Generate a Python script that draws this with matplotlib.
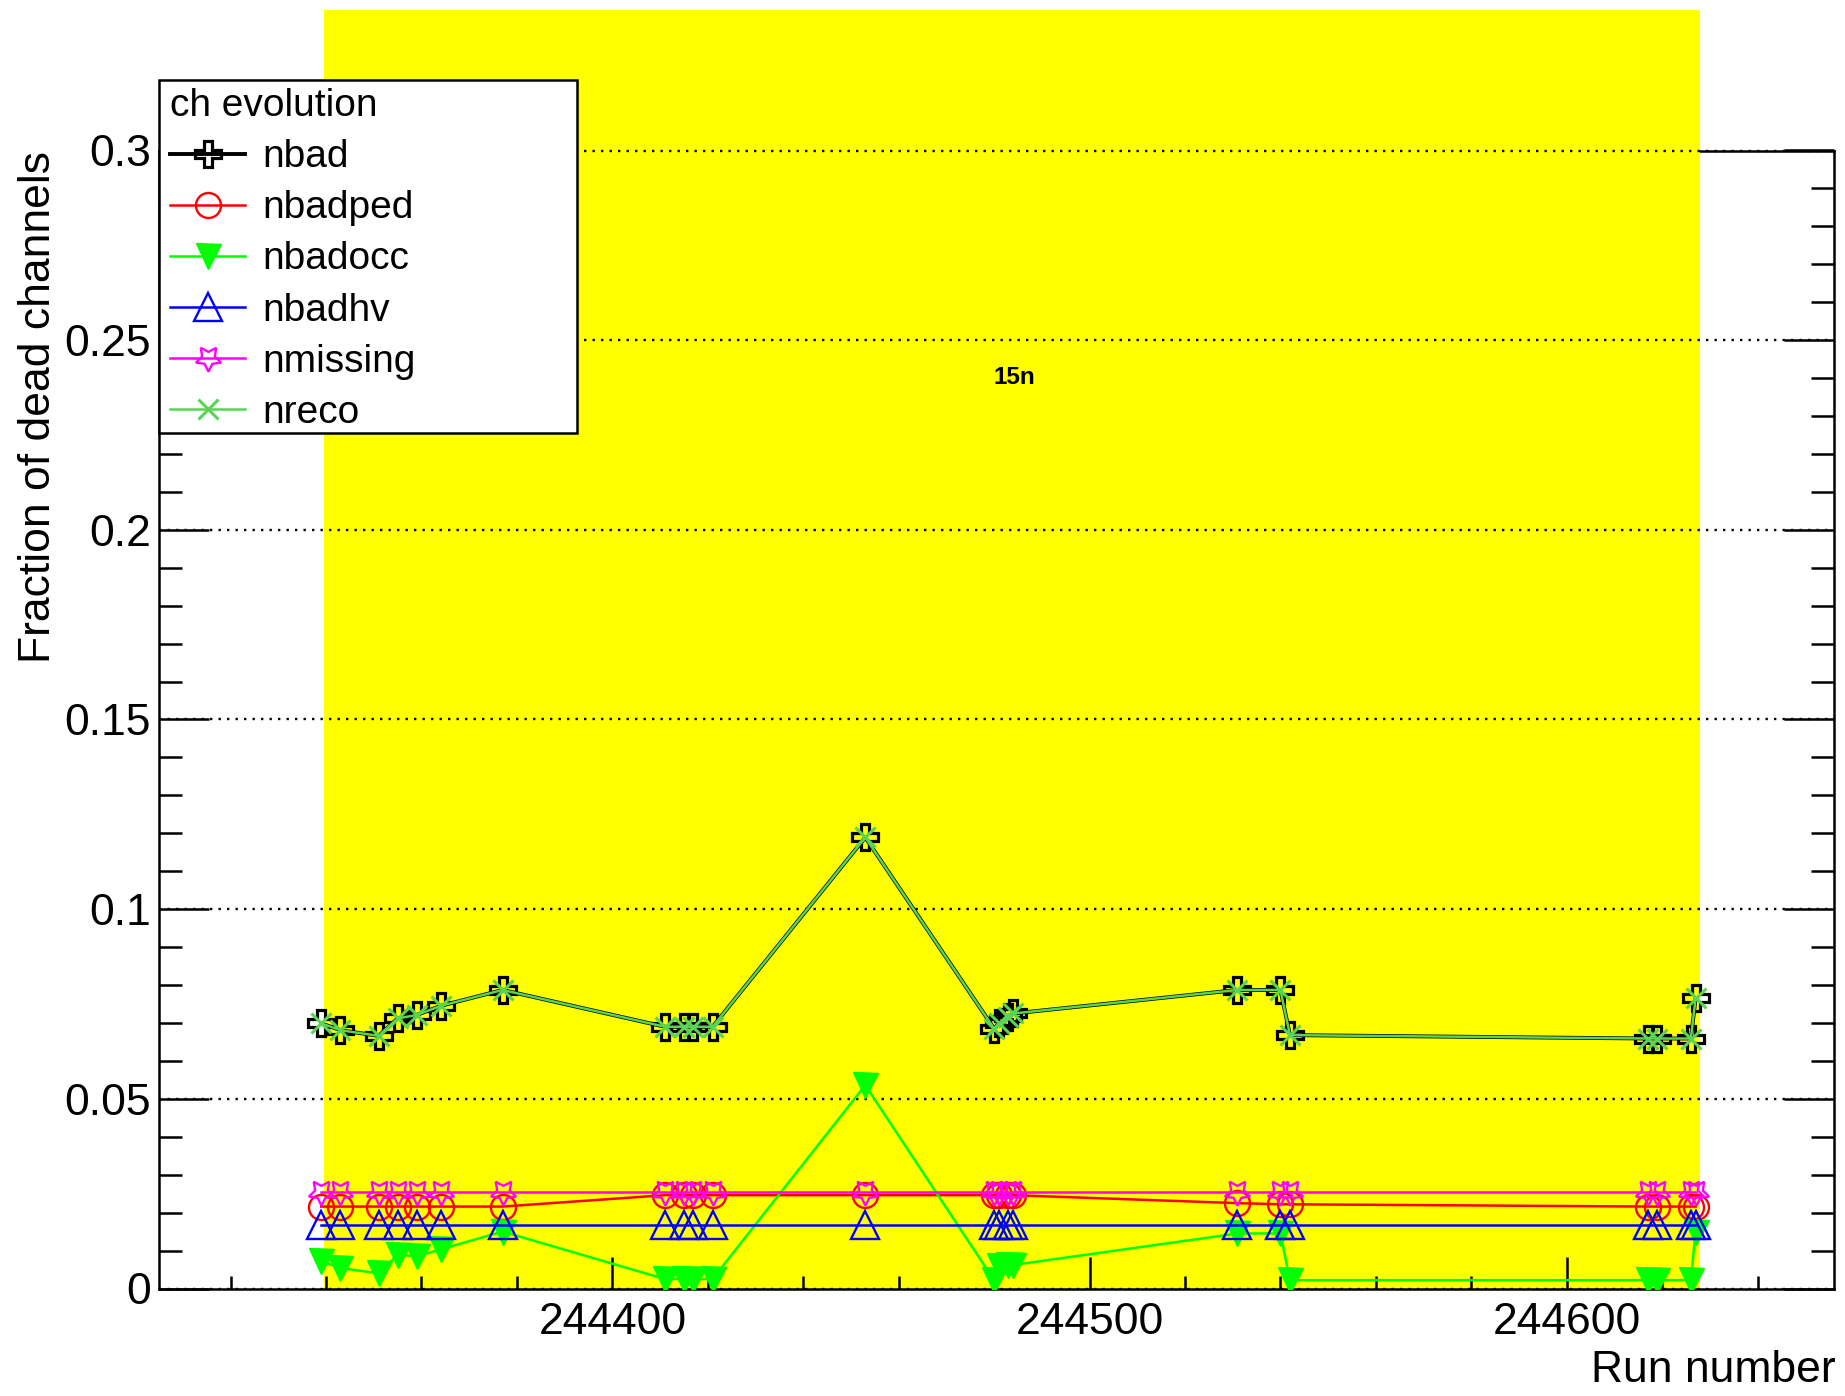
import matplotlib
matplotlib.use("Agg")
import matplotlib.pyplot as plt
from matplotlib.ticker import MultipleLocator, FuncFormatter
from matplotlib.patches import Rectangle

plt.rcParams['font.family'] = ['Liberation Sans', 'DejaVu Sans']

# Run numbers of the period
runs = [244339, 244343, 244351, 244355, 244359, 244364, 244377,
        244411, 244415, 244417, 244421,
        244453,
        244480, 244481, 244483, 244484,
        244531, 244540, 244542,
        244617, 244619, 244626, 244627]

# Fraction of dead channels per category
nbad = [0.0699, 0.0681, 0.0666, 0.0712, 0.0721, 0.0745, 0.0787,
        0.0690, 0.0690, 0.0690, 0.0690,
        0.1189,
        0.0685, 0.0700, 0.0715, 0.0725,
        0.0787, 0.0787, 0.0668,
        0.0659, 0.0659, 0.0659, 0.0765]
nbadped = [0.0216, 0.0216, 0.0216, 0.0216, 0.0216, 0.0216, 0.0216,
           0.0246, 0.0246, 0.0246, 0.0246,
           0.0246,
           0.0246, 0.0246, 0.0246, 0.0246,
           0.0225, 0.0222, 0.0222,
           0.0216, 0.0216, 0.0216, 0.0216]
nbadocc = [0.0072, 0.0054, 0.0040, 0.0089, 0.0085, 0.0103, 0.0150,
           0.0025, 0.0025, 0.0025, 0.0025,
           0.0536,
           0.0022, 0.0060, 0.0062, 0.0062,
           0.0145, 0.0145, 0.0022,
           0.0022, 0.0022, 0.0022, 0.0150]
nbadhv = [0.0167, 0.0167, 0.0167, 0.0167, 0.0167, 0.0167, 0.0167,
          0.0167, 0.0167, 0.0167, 0.0167,
          0.0167,
          0.0167, 0.0167, 0.0167, 0.0167,
          0.0167, 0.0167, 0.0167,
          0.0167, 0.0167, 0.0167, 0.0167]
nmissing = [0.0255, 0.0255, 0.0255, 0.0255, 0.0255, 0.0255, 0.0255,
            0.0255, 0.0255, 0.0255, 0.0255,
            0.0255,
            0.0255, 0.0255, 0.0255, 0.0255,
            0.0255, 0.0255, 0.0255,
            0.0255, 0.0255, 0.0255, 0.0255]
nreco = [0.0699, 0.0681, 0.0666, 0.0712, 0.0721, 0.0745, 0.0787,
         0.0690, 0.0690, 0.0690, 0.0690,
         0.1189,
         0.0685, 0.0700, 0.0715, 0.0725,
         0.0787, 0.0787, 0.0668,
         0.0659, 0.0659, 0.0659, 0.0765]

# Highlighted run period and its tag
period_start, period_end = 244339.5, 244628.0
period_tag = "15n"

W, H = 1845, 1396
fig = plt.figure(figsize=(W / 100, H / 100), dpi=100)
ax = fig.add_axes([159 / W, (H - 1288.5) / H, (1834 - 159) / W, (1288.5 - 150.5) / H])

ax.set_xlim(244305, 244656)
ax.set_ylim(0, 0.3)

# period band, reaching above the frame
ax.axvspan(period_start, period_end, ymin=0, ymax=1.1233, color='#ffff00',
           lw=0, clip_on=False, zorder=2.6)

for name, sp in ax.spines.items():
    sp.set_linewidth(1.8)
    sp.set_zorder(2.0 if name == 'top' else 3.0)
ax.xaxis.set_zorder(3.5)
ax.yaxis.set_zorder(3.5)

ax.xaxis.set_major_locator(MultipleLocator(100))
ax.xaxis.set_minor_locator(MultipleLocator(20))
ax.yaxis.set_major_locator(MultipleLocator(0.05))
ax.yaxis.set_minor_locator(MultipleLocator(0.01))
ax.xaxis.set_major_formatter(FuncFormatter(lambda v, p: f"{v:.0f}"))
ax.yaxis.set_major_formatter(FuncFormatter(lambda v, p: f"{v:g}"))

ax.tick_params(axis='y', which='both', direction='in', left=True, right=True,
               width=1.8, labelsize=32, pad=6)
ax.tick_params(axis='y', which='major', length=36)
ax.tick_params(axis='y', which='minor', length=16.5)
ax.tick_params(axis='x', which='both', direction='in', bottom=True, top=False,
               width=1.8, labelsize=32, pad=10)
ax.tick_params(axis='x', which='major', length=23)
ax.tick_params(axis='x', which='minor', length=9.5)

grid_style = dict(color='black', linestyle=(0, (1, 2.6)), linewidth=1.7)
ax.yaxis.grid(True, which='major', **grid_style)
# dotted grid line along the upper edge, over the band
ax.axhline(ax.get_ylim()[1], clip_on=False, zorder=3.6, **grid_style)

h_bad, = ax.plot(runs, nbad, color='black', lw=2.8, marker='P', ms=19,
                 mfc='none', mec='black', mew=2.3, zorder=4.0, label='nbad')
h_ped, = ax.plot(runs, nbadped, color='#ff0000', lw=1.8, marker='o', ms=18,
                 mfc='none', mec='#ff0000', mew=1.7, zorder=4.1, label='nbadped')
h_occ, = ax.plot(runs, nbadocc, color='#00ff00', lw=1.8, marker='v', ms=18,
                 mfc='#00ff00', mec='#00ff00', zorder=4.2, label='nbadocc')
h_hv, = ax.plot(runs, nbadhv, color='#0000ff', lw=1.8, marker='^', ms=20,
                mfc='none', mec='#0000ff', mew=1.7, zorder=4.3, label='nbadhv')
h_mis, = ax.plot(runs, nmissing, color='#ff00ff', lw=1.8, marker=(5, 1, 180), ms=19,
                 mfc='none', mec='#ff00ff', mew=1.7, zorder=4.4, label='nmissing')
h_reco, = ax.plot(runs, nreco, color='#59d454', lw=1.8, marker='x', ms=15,
                  mec='#59d454', mew=2.2, zorder=4.5, label='nreco')

fig.text(1014 / W, 1 - 378 / H, period_tag, fontsize=17.5, fontweight='bold',
         ha='center', va='center')

fig.text(39 / W, 1 - 151 / H, 'Fraction of dead channels', rotation=90,
         fontsize=32, ha='center', va='top')
fig.text(1836 / W, 1 - 1371 / H, 'Run number', fontsize=32, ha='right', va='center')

# legend frame and entries
frame = Rectangle((159 / W, 1 - 433 / H), (577 - 159) / W, (433 - 80) / H,
                  transform=fig.transFigure, facecolor='white', edgecolor='black',
                  lw=1.8, zorder=4)
fig.add_artist(frame)
fig.legend(handles=[h_bad, h_ped, h_occ, h_hv, h_mis, h_reco],
           loc='upper left', bbox_to_anchor=(170 / W, 1 - 88 / H),
           frameon=False, fontsize=28, title='ch evolution', title_fontsize=28,
           alignment='left', borderpad=0, borderaxespad=0, labelspacing=0.39,
           handlelength=1.93, handletextpad=0.44, numpoints=1)

fig.savefig('out.png', dpi=100)
